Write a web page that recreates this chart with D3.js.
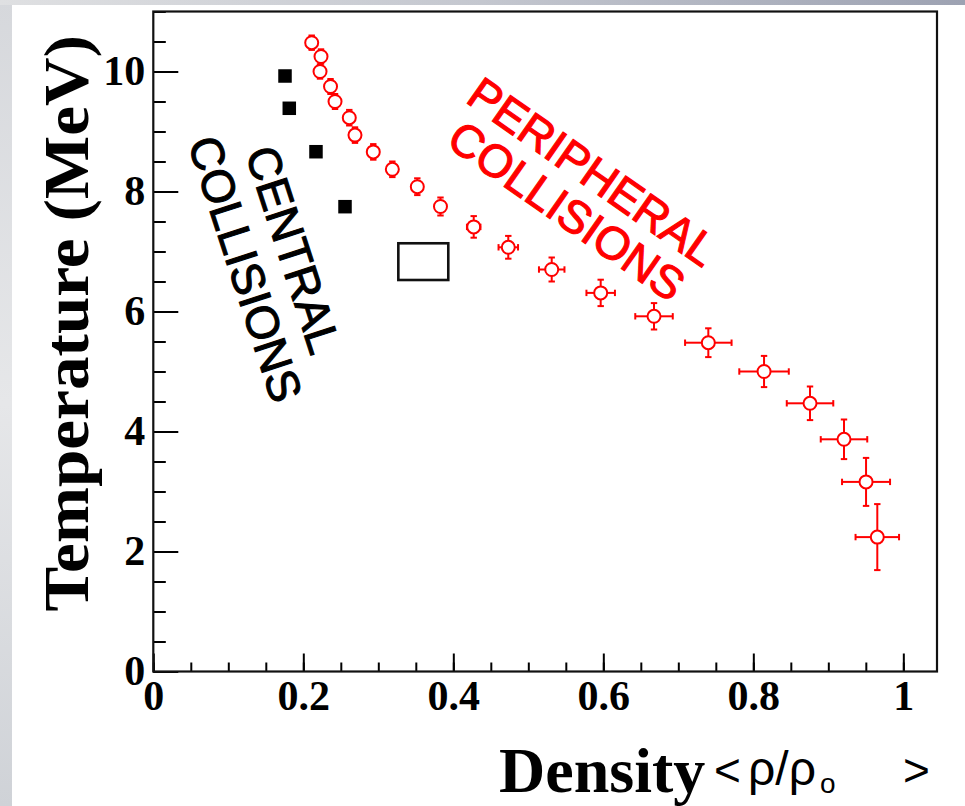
<!DOCTYPE html>
<html><head><meta charset="utf-8">
<script src="https://cdn.jsdelivr.net/npm/d3@7"></script>
<style>html,body{margin:0;padding:0;background:#fff;overflow:hidden}</style>
</head><body><svg id="c" width="965" height="806"></svg>
<script>
// ---- data ----
const periphX = [0.2112,0.2236,0.2223,0.2363,0.2423,0.2613,0.2689,0.2933,0.3187,0.3520,0.3829,0.4272,0.4733,0.5312,0.5965,0.6676,0.7400,0.8143,0.8756,0.9209,0.9503,0.9653];
const periphY = [10.48,10.25,10.00,9.75,9.50,9.23,8.94,8.66,8.37,8.08,7.75,7.41,7.07,6.70,6.31,5.92,5.48,5.00,4.47,3.87,3.16,2.24];
const periphXErr = [0.003,0.003,0.003,0.004,0.004,0.004,0.005,0.005,0.006,0.007,0.008,0.009,0.013,0.017,0.019,0.025,0.031,0.033,0.031,0.031,0.032,0.029];
const periphYErr = [0.12,0.12,0.12,0.125,0.125,0.13,0.13,0.13,0.13,0.14,0.15,0.18,0.19,0.20,0.22,0.22,0.24,0.26,0.28,0.33,0.40,0.55];
const centralX = [0.1756,0.1813,0.2169,0.2556];
const centralY = [9.925,9.387,8.663,7.747];
const boxX = [0.3267,0.3933];
const boxY = [6.525,7.137];
const xTicks = [0,0.2,0.4,0.6,0.8,1];
const xTickLabels = ["0","0.2","0.4","0.6","0.8","1"];
const yTicks = [0,2,4,6,8,10];
const yTickLabels = ["0","2","4","6","8","10"];
const xMinor = d3.range(0,1.001,0.05);
const yMinor = d3.range(0,11.001,0.5);

const svg = d3.select('#c');
const defs = svg.append('defs');
const gTop = defs.append('linearGradient').attr('id','gtop').attr('x1','0').attr('x2','1').attr('y1','0').attr('y2','0');
gTop.append('stop').attr('offset','0').attr('stop-color','#dfe0e2');
gTop.append('stop').attr('offset','0.5').attr('stop-color','#c4c7cf');
gTop.append('stop').attr('offset','1').attr('stop-color','#9da2b2');
const gLeft = defs.append('linearGradient').attr('id','gleft').attr('x1','0').attr('x2','0').attr('y1','0').attr('y2','1');
gLeft.append('stop').attr('offset','0').attr('stop-color','#d6d8dc');
gLeft.append('stop').attr('offset','0.5').attr('stop-color','#e6e7e9');
gLeft.append('stop').attr('offset','1').attr('stop-color','#cfd2d7');

svg.append('rect').attr('x',0).attr('y',0).attr('width',965).attr('height',806).attr('fill','#fff');
svg.append('rect').attr('x',0).attr('y',0).attr('width',12).attr('height',806).attr('fill','url(#gleft)');
svg.append('rect').attr('x',0).attr('y',0).attr('width',965).attr('height',5).attr('fill','url(#gtop)');

const x = d3.scaleLinear().domain([0,1.0449]).range([153.3,937]);
const y = d3.scaleLinear().domain([0,11]).range([671.5,11.5]);

// minor ticks
svg.append('g').attr('transform',`translate(0,${y(0)})`)
  .call(d3.axisBottom(x).tickValues(xMinor).tickSize(-9).tickFormat(''))
  .call(g=>g.select('.domain').remove())
  .call(g=>g.selectAll('line').attr('stroke','#000').attr('stroke-width',2));
svg.append('g').attr('transform',`translate(${x(0)},0)`)
  .call(d3.axisLeft(y).tickValues(yMinor).tickSize(-12.5).tickFormat(''))
  .call(g=>g.select('.domain').remove())
  .call(g=>g.selectAll('line').attr('stroke','#000').attr('stroke-width',2));
// major ticks
svg.append('g').attr('transform',`translate(0,${y(0)})`)
  .call(d3.axisBottom(x).tickValues(xTicks).tickSize(-18).tickPadding(9).tickFormat((d,i)=>xTickLabels[i]))
  .call(g=>g.select('.domain').remove())
  .call(g=>g.selectAll('line').attr('stroke','#000').attr('stroke-width',2))
  .call(g=>g.selectAll('text').attr('fill','#000').attr('font-family','"Liberation Serif", serif').attr('font-weight','bold').attr('font-size',42));
svg.append('g').attr('transform',`translate(${x(0)},0)`)
  .call(d3.axisLeft(y).tickValues(yTicks).tickSize(-25).tickPadding(8).tickFormat((d,i)=>yTickLabels[i]))
  .call(g=>g.select('.domain').remove())
  .call(g=>g.selectAll('line').attr('stroke','#000').attr('stroke-width',2))
  .call(g=>g.selectAll('text').attr('fill','#000').attr('font-family','"Liberation Serif", serif').attr('font-weight','bold').attr('font-size',42));

// frame
svg.append('rect').attr('x',x(0)).attr('y',y(11)).attr('width',x(1.0449)-x(0)).attr('height',y(0)-y(11))
  .attr('fill','none').attr('stroke','#111').attr('stroke-width',2.2);

// central collisions
const sq = 13.5;
svg.append('g').selectAll('rect').data(centralX).join('rect')
  .attr('x',(d)=>x(d)-sq/2).attr('y',(d,i)=>y(centralY[i])-sq/2).attr('width',sq).attr('height',sq).attr('fill','#000');
svg.append('rect').attr('x',x(boxX[0])).attr('y',y(boxY[1])).attr('width',x(boxX[1])-x(boxX[0])).attr('height',y(boxY[0])-y(boxY[1]))
  .attr('fill','none').attr('stroke','#111').attr('stroke-width',2.6);

// peripheral
const r = 6.5, cap = 3.2;
const eg = svg.append('g').attr('stroke','#ff0000').attr('stroke-width',2).attr('fill','none');
periphX.forEach((xv,i)=>{
  const px = x(xv), py = y(periphY[i]);
  const ex = x(xv+periphXErr[i]) - px;
  const ey = py - y(periphY[i]+periphYErr[i]);
  if (ex > r) {
    [-1,1].forEach(s=>{
      eg.append('line').attr('x1',px+s*r).attr('x2',px+s*ex).attr('y1',py).attr('y2',py);
      eg.append('line').attr('x1',px+s*ex).attr('x2',px+s*ex).attr('y1',py-cap).attr('y2',py+cap);
    });
  }
  if (ey > r-0.5) {
    [-1,1].forEach(s=>{
      eg.append('line').attr('y1',py+s*r).attr('y2',py+s*ey).attr('x1',px).attr('x2',px);
      eg.append('line').attr('y1',py+s*ey).attr('y2',py+s*ey).attr('x1',px-cap).attr('x2',px+cap);
    });
  }
});
eg.selectAll('circle').data(periphX).join('circle')
  .attr('cx',d=>x(d)).attr('cy',(d,i)=>y(periphY[i])).attr('r',r);

// annotations
function rotLabel(cx,cy,ang,txt,color,fs){
  svg.append('text').attr('transform',`translate(${cx},${cy}) rotate(${ang})`)
    .attr('text-anchor','middle').attr('font-family','"Liberation Sans", Arial, sans-serif')
    .attr('font-size',fs).attr('fill',color).attr('stroke',color).attr('stroke-width',1.1).text(txt);
}
rotLabel(278.1,254.7,72,'CENTRAL','#000',46);
rotLabel(230.1,273.9,72,'COLLISIONS','#000',46);
rotLabel(583.5,184.9,35,'PERIPHERAL','#ff0000',46);
rotLabel(557.6,224,35,'COLLISIONS','#ff0000',46);

// axis titles
svg.append('text').attr('transform','translate(88,35) rotate(-90) scale(1.05,1)').attr('text-anchor','end')
  .attr('font-family','"Liberation Serif", serif').attr('font-weight','bold').attr('font-size',64).attr('fill','#000')
  .text('Temperature (MeV)');
const xt = svg.append('text').attr('y',792).attr('fill','#000');
xt.append('tspan').attr('x',499).attr('font-family','"Liberation Serif", serif').attr('font-weight','bold').attr('font-size',64).text('Density');
const sans = '"Liberation Sans", Arial, sans-serif';
xt.append('tspan').attr('x',714).attr('y',786).attr('font-family',sans).attr('font-size',46).text('<');
xt.append('tspan').attr('x',748).attr('y',785).attr('font-family',sans).attr('font-size',48).text('ρ/ρ');
xt.append('tspan').attr('x',820).attr('y',793).attr('font-family',sans).attr('font-size',28).text('o');
xt.append('tspan').attr('x',903).attr('y',786).attr('font-family',sans).attr('font-size',46).text('>');
</script></body></html>
